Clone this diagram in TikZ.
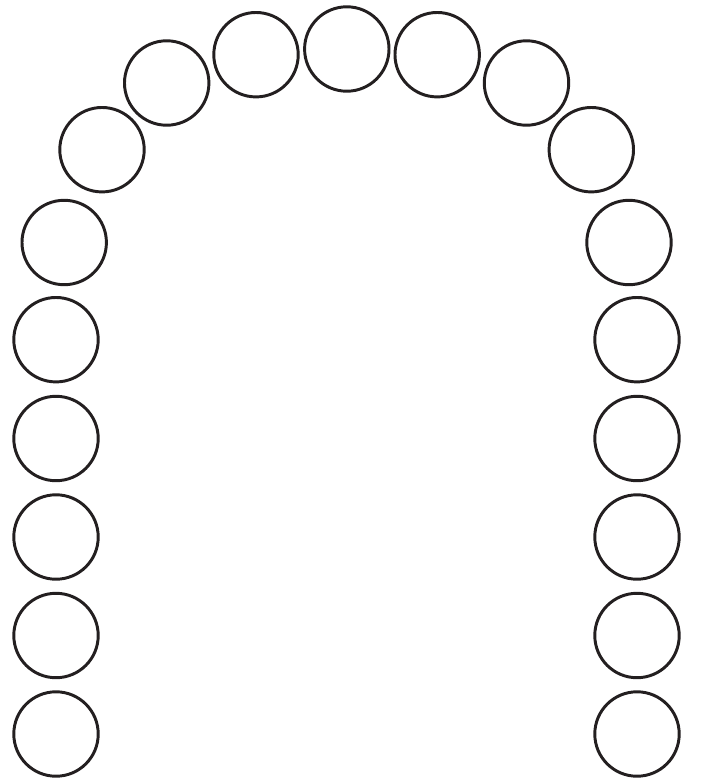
\documentclass[tikz,border=0pt]{standalone}
\usepackage{tikz}
\usetikzlibrary{positioning}
\definecolor{toothline}{RGB}{35,31,32}
\tikzset{
  tooth/.style={circle, draw=toothline, line width=2.1pt, minimum size=2.11cm, inner sep=0pt}
}

\begin{document}
\begin{tikzpicture}[x=0.025cm, y=-0.025cm]
    %% Canvas
    \useasboundingbox (0,0) rectangle (701,783);

    %% Left column
    \foreach \n/\y in {1/734, 2/635.5, 3/537, 4/438.5, 5/339.7} {
      \node[tooth] (t\n) at (56,\y) {};
    }

    %% Arch
    \foreach \n/\x/\y in {6/64.2/242.5, 7/102/149.7, 8/166.7/83, 9/256/54.7,
      10/346.8/49, 11/437.2/54.7, 12/526.5/83, 13/591.3/149.7, 14/629/242.5} {
      \node[tooth] (t\n) at (\x,\y) {};
    }

    %% Right column
    \foreach \n/\y in {15/339.7, 16/438.5, 17/537, 18/635.5, 19/734} {
      \node[tooth] (t\n) at (637,\y) {};
    }
  \end{tikzpicture}
\end{document}
